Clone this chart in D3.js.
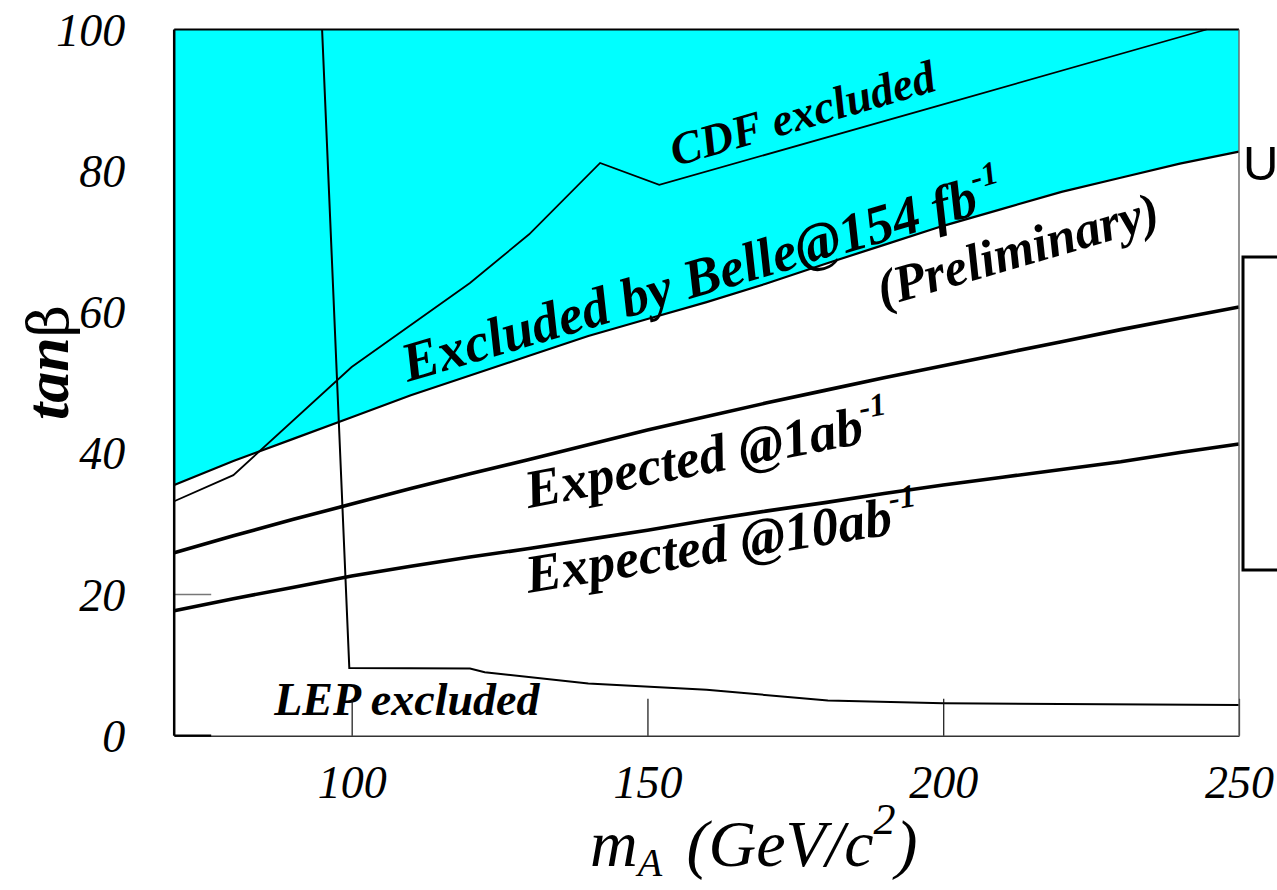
<!DOCTYPE html>
<html>
<head>
<meta charset="utf-8">
<script src="https://cdn.jsdelivr.net/npm/d3@7"></script>
<style>
  body { margin: 0; background: #fff; }
  svg { display: block; }
  text { font-family: "Liberation Serif", "Times New Roman", serif; }
</style>
</head>
<body>
<svg id="chart"></svg>
<script>
// tan(beta) limits vs m_A
var mA = [70, 80, 90, 100, 110, 120, 130, 140, 150, 160, 170, 180, 190, 200, 210, 220, 230, 240, 250];
var belle = [35.5, 38.9, 42.0, 45.1, 48.2, 51.0, 53.8, 56.6, 59.0, 61.4, 64.0, 66.8, 69.5, 72.2, 74.6, 77.0, 79.0, 81.0, 82.7];
var exp1ab = [25.9, 28.3, 30.6, 32.8, 35.0, 37.1, 39.1, 41.2, 43.3, 45.2, 47.1, 48.9, 50.7, 52.4, 54.1, 55.8, 57.5, 59.1, 60.7];
var exp10ab = [17.7, 19.4, 21.0, 22.6, 24.0, 25.3, 26.5, 27.8, 29.1, 30.5, 31.8, 33.0, 34.3, 35.5, 36.6, 37.7, 38.8, 40.1, 41.3];

var cdfM = [70, 80, 100, 120, 130, 142, 152, 200, 244.5];
var cdfTan = [33.2, 36.9, 52.2, 64.1, 71.0, 81.1, 78.0, 89.4, 100];

var lepM = [95, 99.6, 120, 122.5, 140, 160, 180.5, 200, 250];
var lepTan = [100, 9.6, 9.5, 9.0, 7.4, 6.5, 5.0, 4.6, 4.35];

var xTicks = [100, 150, 200, 250];
var yTicks = [0, 20, 40, 60, 80, 100];

var width = 1277,
    height = 890;

var svg = d3.select("#chart").attr("width", width).attr("height", height);

var x = d3.scaleLinear().domain([70, 250]).range([174.2, 1239]);
var y = d3.scaleLinear().domain([0, 100]).range([735.7, 29.5]);
var tickLen = 37;

function pts(xs, ys) {
	return xs.map(function(d, i) { return [d, ys[i]]; });
}

var line = d3.line().x(function(d) { return x(d[0]); }).y(function(d) { return y(d[1]); });

// excluded region (above Belle limit)
var area = d3.area()
	.x(function(d) { return x(d[0]); })
	.y0(y(100))
	.y1(function(d) { return y(d[1]); });

svg.append("path").datum(pts(mA, belle)).attr("d", area).attr("fill", "#00ffff");

svg.append("path").datum(pts(mA, belle)).attr("d", line)
	.attr("fill", "none").attr("stroke", "#000").attr("stroke-width", 2.2);

svg.append("path").datum(pts(cdfM, cdfTan)).attr("d", line)
	.attr("fill", "none").attr("stroke", "#000").attr("stroke-width", 1.8);

svg.append("path").datum(pts(mA, exp1ab)).attr("d", line)
	.attr("fill", "none").attr("stroke", "#000").attr("stroke-width", 3.6);

svg.append("path").datum(pts(mA, exp10ab)).attr("d", line)
	.attr("fill", "none").attr("stroke", "#000").attr("stroke-width", 3.6);

svg.append("path").datum(pts(lepM, lepTan)).attr("d", line)
	.attr("fill", "none").attr("stroke", "#000").attr("stroke-width", 2);

// labels on the plot
function label(mx, ty, angle, size, parts) {
	var t = svg.append("text")
		.attr("transform", "translate(" + x(mx) + "," + y(ty) + ") rotate(" + angle + ")")
		.style("font-size", size + "px")
		.style("font-weight", "bold")
		.style("font-style", "italic");
	parts.forEach(function(p) {
		if (p.sup) {
			t.append("tspan").text(p.text).attr("dy", -0.45 * size).style("font-size", (size * 0.6) + "px");
			t.append("tspan").text(" ").attr("dy", 0.45 * size);
		} else {
			t.append("tspan").text(p.text);
		}
	});
	return t;
}

label(154.7, 80.6, -16.2, 46, [{text: "CDF excluded"}]);
label(109.5, 50.1, -16.4, 55, [{text: "Excluded by Belle@154 fb"}, {text: "-1", sup: true}]);
label(189.7, 60.7, -16.2, 52, [{text: "(Preliminary)"}]);
label(129.9, 32.2, -11, 54, [{text: "Expected @1ab"}, {text: "-1", sup: true}]);
label(129.9, 20.2, -9.2, 54, [{text: "Expected @10ab"}, {text: "-1", sup: true}]);
label(86.9, 2.9, 0, 46, [{text: "LEP excluded"}]);

// axes
var xAxis = d3.axisBottom(x).tickValues(xTicks).tickSizeInner(-tickLen).tickSizeOuter(0).tickFormat(d3.format("d"));
var gx = svg.append("g").attr("transform", "translate(0," + y(0) + ")").call(xAxis);
gx.select(".domain").attr("stroke", "#333").attr("stroke-width", 1.6);
gx.selectAll(".tick line").attr("stroke", "#111").attr("stroke-width", 1.2);
gx.selectAll(".tick text").attr("y", 62).attr("dy", 0)
	.style("font-size", "46px").style("font-style", "italic").attr("fill", "#000")
	.style("font-family", "'Liberation Serif', serif");

var yAxis = d3.axisLeft(y).tickValues(yTicks).tickSize(0).tickPadding(49).tickFormat(d3.format("d"));
var gy = svg.append("g").attr("transform", "translate(" + x(70) + ",0)").call(yAxis);
gy.select(".domain").remove();
gy.selectAll(".tick text").attr("dy", "0.34em")
	.style("font-size", "46px").style("font-style", "italic").attr("fill", "#000")
	.style("font-family", "'Liberation Serif', serif");

// short tick at 20 and black start of the x axis
svg.append("line").attr("x1", x(70)).attr("x2", x(70) + tickLen).attr("y1", y(20)).attr("y2", y(20))
	.attr("stroke", "#777").attr("stroke-width", 1.5);
svg.append("line").attr("x1", x(70)).attr("x2", x(70) + tickLen).attr("y1", y(0)).attr("y2", y(0))
	.attr("stroke", "#000").attr("stroke-width", 2.2);

// frame
svg.append("line").attr("x1", x(70)).attr("x2", x(70)).attr("y1", y(0)).attr("y2", y(100))
	.attr("stroke", "#000").attr("stroke-width", 2.5);
svg.append("line").attr("x1", x(70)).attr("x2", x(250)).attr("y1", y(100)).attr("y2", y(100))
	.attr("stroke", "#000").attr("stroke-width", 2);
svg.append("line").attr("x1", x(250)).attr("x2", x(250)).attr("y1", y(100)).attr("y2", y(0))
	.attr("stroke", "#666").attr("stroke-width", 1.4);

// axis titles
var xt = svg.append("text").attr("x", 590).attr("y", 866)
	.style("font-size", "66px").style("font-style", "italic");
xt.append("tspan").text("m");
xt.append("tspan").text("A").attr("dy", 10).style("font-size", "40px");
xt.append("tspan").text("\u00a0(GeV/c").attr("dy", -10).attr("dx", 8);
xt.append("tspan").text("2").attr("dy", -32).style("font-size", "44px");
xt.append("tspan").text(")").attr("dy", 32);

var yt = svg.append("text").attr("transform", "translate(68,420) rotate(-90)")
	.style("font-size", "62px");
yt.append("tspan").text("tan").style("font-weight", "bold").style("font-style", "italic");
yt.append("tspan").text("\u03b2").style("font-family", "'DejaVu Serif', serif").style("font-size", "56px");

// slide leftovers at the right edge
svg.append("text").attr("x", 1243).attr("y", 180).text("U")
	.style("font-family", "'Liberation Sans', Arial, sans-serif").style("font-size", "49px");
svg.append("rect").attr("x", 1243).attr("y", 257).attr("width", 80).attr("height", 313)
	.attr("fill", "none").attr("stroke", "#000").attr("stroke-width", 3);
</script>
</body>
</html>
